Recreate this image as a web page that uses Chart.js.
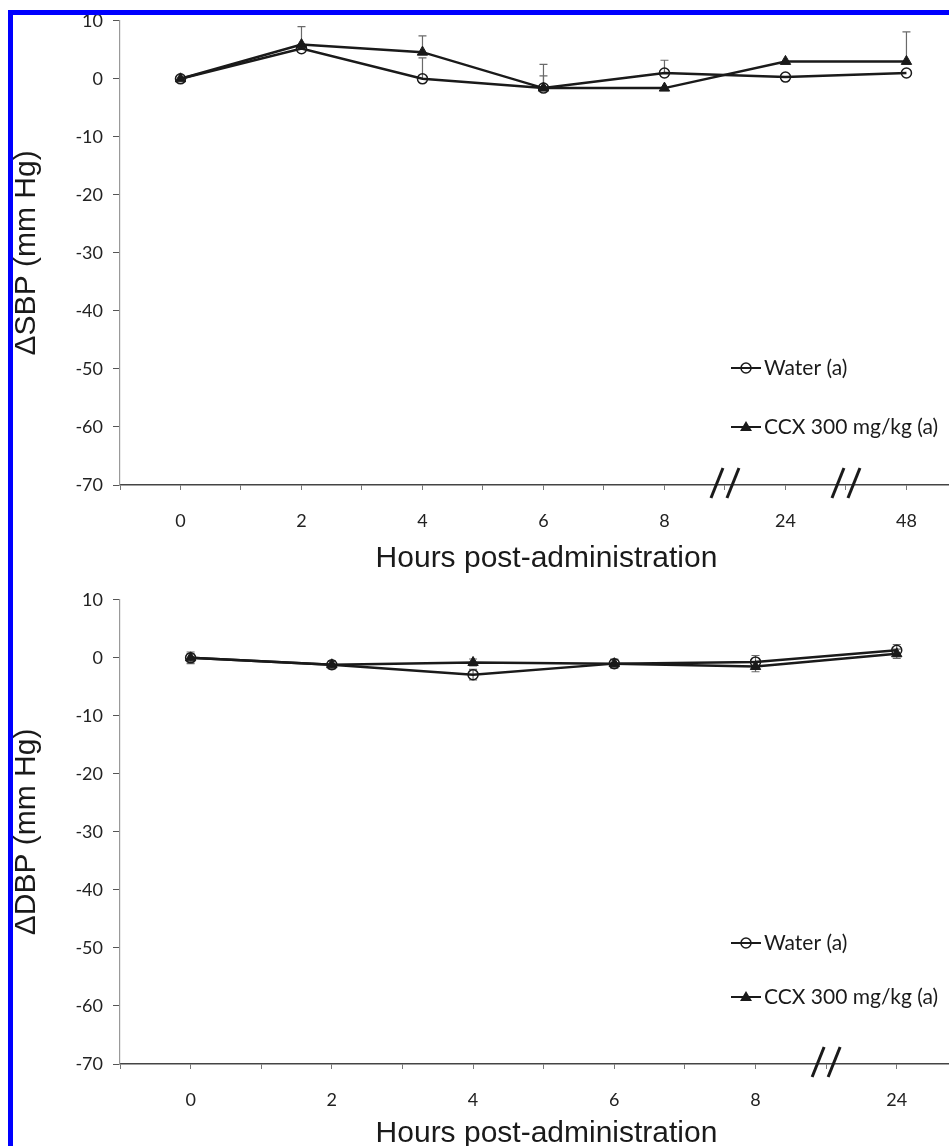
<!DOCTYPE html>
<html>
<head>
<meta charset="utf-8">
<script src="https://cdn.jsdelivr.net/npm/chart.js@4.4.1/dist/chart.umd.min.js"></script>
<style>
  html, body { margin: 0; padding: 0; background: #fff; width: 949px; height: 1146px; overflow: hidden; }
  .wrap { position: absolute; left: 0; width: 980px; height: 580px; }
  #w1 { top: 0; }
  #w2 { top: 579px; }
  .bar { position: absolute; background: #0000ff; z-index: 5; }
</style>
</head>
<body>
<div class="wrap" id="w1"><canvas id="c1" width="980" height="580"></canvas></div>
<div class="wrap" id="w2"><canvas id="c2" width="980" height="580"></canvas></div>
<div class="bar" style="left:8px;top:10px;width:5px;height:1136px;"></div>
<div class="bar" style="left:8px;top:10px;width:941px;height:5px;"></div>
<script>
// ---------- data ----------
const topHours = ['0', '2', '4', '6', '8', '24', '48'];
const topWater = [0, 5.2, 0, -1.6, 1.0, 0.3, 1.0];
const topCCX = [0, 5.9, 4.6, -1.6, -1.6, 3.0, 3.0];
const topWaterErr = [0, 3.8, 3.6, 4.1, 2.2, 0, 0];
const topCCXErr = [0, 0, 2.8, 2.1, 0, 0, 5.1];

const bottomHours = ['0', '2', '4', '6', '8', '24'];
const bottomWater = [0, -1.2, -2.9, -1.0, -0.7, 1.3];
const bottomCCX = [0, -1.2, -0.8, -1.0, -1.5, 0.7];
const bottomWaterErr = [1.0, 0.7, 0.9, 0.8, 1.1, 1.0];
const bottomCCXErr = [0.7, 0.6, 0.6, 0.7, 0.9, 0.8];

const yTicks = [10, 0, -10, -20, -30, -40, -50, -60, -70];
const seriesNames = ['Water (a)', 'CCX 300 mg/kg (a)'];

// ---------- helpers ----------
const toPts = (vals) => vals.map((v, i) => ({ x: i * 2, y: v }));

const errorBarPlugin = {
  id: 'errbars',
  beforeDatasetsDraw(chart) {
    const { ctx, scales: { x, y } } = chart;
    const cfg = chart.options.plugins.errbars;
    ctx.save();
    ctx.strokeStyle = '#6a6a6a';
    ctx.lineWidth = 1.2;
    cfg.errors.forEach((errs, di) => {
      const ds = chart.data.datasets[di];
      ds.data.forEach((p, i) => {
        const e = errs[i];
        if (!e) return;
        const px = x.getPixelForValue(p.x);
        const yTop = y.getPixelForValue(p.y + e);
        const yBot = cfg.symmetric ? y.getPixelForValue(p.y - e) : y.getPixelForValue(p.y);
        ctx.beginPath();
        ctx.moveTo(px, yTop); ctx.lineTo(px, yBot);
        ctx.moveTo(px - 4, yTop); ctx.lineTo(px + 4, yTop);
        if (cfg.symmetric) { ctx.moveTo(px - 4, yBot); ctx.lineTo(px + 4, yBot); }
        ctx.stroke();
      });
    });
    ctx.restore();
  }
};

const breakPlugin = {
  id: 'axisbreaks',
  afterDraw(chart) {
    const { ctx, scales: { x, y } } = chart;
    const cfg = chart.options.plugins.axisbreaks;
    const py = y.getPixelForValue(y.min);
    ctx.save();
    ctx.strokeStyle = '#1a1a1a';
    ctx.lineWidth = 3;
    cfg.at.forEach(b => {
      const cx = x.getPixelForValue(b);
      [-8, 8].forEach(off => {
        ctx.beginPath();
        ctx.moveTo(cx + off - 6, py + 13);
        ctx.lineTo(cx + off + 6, py - 17);
        ctx.stroke();
      });
    });
    ctx.restore();
  }
};

const legendPlugin = {
  id: 'inlegend',
  afterDraw(chart) {
    const { ctx, chartArea } = chart;
    const cfg = chart.options.plugins.inlegend;
    ctx.save();
    chart.data.datasets.forEach((ds, i) => {
      const x0 = chartArea.right - cfg.fromRight;
      const yy = cfg.rows[i];
      ctx.strokeStyle = '#1a1a1a';
      ctx.lineWidth = 2;
      ctx.beginPath(); ctx.moveTo(x0, yy); ctx.lineTo(x0 + 30, yy); ctx.stroke();
      const mx = x0 + 15;
      if (ds.pointStyle === 'triangle') {
        ctx.fillStyle = '#1a1a1a';
        ctx.beginPath();
        ctx.moveTo(mx, yy - 6); ctx.lineTo(mx + 6, yy + 4); ctx.lineTo(mx - 6, yy + 4);
        ctx.closePath(); ctx.fill();
      } else {
        ctx.lineWidth = 1.5;
        ctx.beginPath(); ctx.arc(mx, yy, 5, 0, Math.PI * 2); ctx.stroke();
      }
      ctx.fillStyle = '#1a1a1a';
      ctx.font = '21px Lato';
      ctx.textBaseline = 'middle';
      ctx.textAlign = 'left';
      ctx.fillText(ds.label, x0 + 33, yy);
    });
    ctx.restore();
  }
};

function makeChart(id, cats, water, ccx, errW, errC, symmetric, xMax, breaks, yTitle, legendRows, titlePad) {
  return new Chart(document.getElementById(id), {
    type: 'line',
    data: {
      datasets: [
        {
          label: seriesNames[0], data: toPts(water),
          borderColor: '#1a1a1a', borderWidth: 2.5,
          pointStyle: 'circle', pointRadius: 5, pointBorderWidth: 1.5,
          pointBorderColor: '#1a1a1a', pointBackgroundColor: 'rgba(0,0,0,0)'
        },
        {
          label: seriesNames[1], data: toPts(ccx),
          borderColor: '#1a1a1a', borderWidth: 2.5,
          pointStyle: 'triangle', pointRadius: 6, pointBorderWidth: 1,
          pointBorderColor: '#1a1a1a', pointBackgroundColor: '#1a1a1a'
        }
      ]
    },
    options: {
      responsive: false, animation: false,
      layout: { padding: { left: 0, right: 0, top: 19, bottom: 0 } },
      plugins: {
        legend: { display: false }, tooltip: { enabled: false },
        errbars: { errors: [errW, errC], symmetric: symmetric },
        axisbreaks: { at: breaks },
        inlegend: { fromRight: 242, rows: legendRows }
      },
      scales: {
        x: {
          type: 'linear', min: -1, max: xMax,
          afterFit(s) { s.height = 95; s.paddingLeft = 0; s.paddingRight = 0; },
          border: { display: true, color: '#444', width: 1.5 },
          grid: { drawOnChartArea: false, drawTicks: true, tickLength: 5, color: '#777' },
          ticks: {
            stepSize: 1, includeBounds: false, autoSkip: false, maxRotation: 0,
            padding: 20, color: '#222', font: { family: 'Lato', size: 18 },
            callback(v) {
              if (v < 0 || v % 2 !== 0) return '';
              const c = cats[v / 2];
              return c === undefined ? '' : c;
            }
          },
          title: {
            display: true, text: 'Hours post-administration', color: '#1a1a1a',
            font: { family: 'Liberation Sans', size: 30 },
            padding: { top: 0, bottom: titlePad }
          }
        },
        y: {
          min: yTicks[yTicks.length - 1], max: yTicks[0],
          afterFit(s) { s.width = 120; },
          border: { display: true, color: '#999', width: 1.2 },
          grid: { drawOnChartArea: false, drawTicks: true, tickLength: 7, color: '#555' },
          ticks: {
            stepSize: 10, padding: 10, color: '#222', font: { family: 'Lato', size: 18 }
          },
          title: {
            display: true, text: yTitle, color: '#1a1a1a',
            font: { family: 'Liberation Sans', size: 30 },
            padding: { top: 9, bottom: 0 }
          }
        }
      }
    },
    plugins: [errorBarPlugin, breakPlugin, legendPlugin]
  });
}

makeChart('c1', topHours, topWater, topCCX, topWaterErr, topCCXErr, false,
  13.1, [9, 11], '\u0394SBP (mm Hg)', [368, 427], 3);
makeChart('c2', bottomHours, bottomWater, bottomCCX, bottomWaterErr, bottomCCXErr, true,
  11.08, [9], '\u0394DBP (mm Hg)', [364, 418], 7);
</script>
</body>
</html>
